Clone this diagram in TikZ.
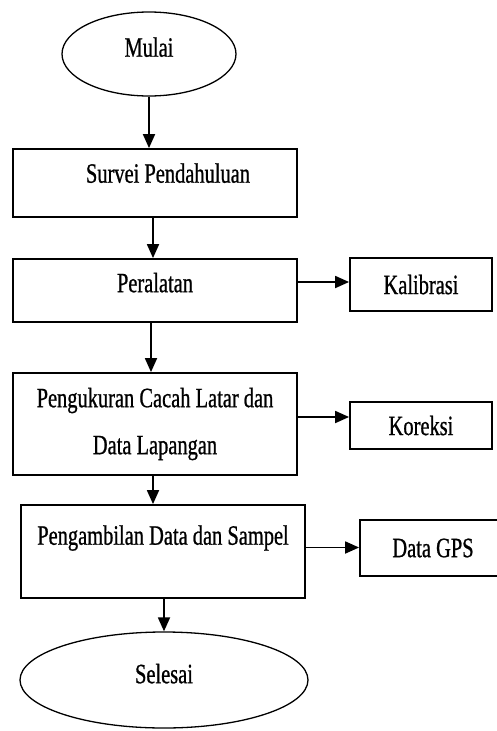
\documentclass[tikz,border=0pt]{standalone}
\usepackage{fontspec}
\setmainfont{Liberation Serif}[FakeStretch=0.73, FakeBold=0.8]
\usetikzlibrary{shapes.geometric, arrows.meta}

\begin{document}
\begin{tikzpicture}[x=1pt, y=-1pt,
    every node/.style={draw, line width=1.8pt, font=\fontsize{28}{34}\selectfont},
    box/.style={rectangle},
    oval/.style={ellipse, line width=1.3pt},
    flow/.style={line width=1.8pt, -{Triangle[length=14pt, width=12pt]}}]
    \clip (0, 0) rectangle (497, 731);

    \node[oval, minimum width=174pt, minimum height=84pt, text depth=14pt] (mulai) at (149, 54) {Mulai};
    \node[box, minimum width=284pt, minimum height=68pt, text depth=20pt] (survei) at (155, 183) {\hspace*{26pt}Survei Pendahuluan};
    \node[box, minimum width=284pt, minimum height=63pt, text depth=16pt] (alat) at (155, 290.5) {Peralatan};
    \node[box, minimum width=142pt, minimum height=53pt] (kalibrasi) at (421, 284.5) {Kalibrasi};
    \node[box, minimum width=284pt, minimum height=102pt, align=center,
        font=\fontsize{28}{47}\selectfont] (ukur) at (155, 424) {Pengukuran Cacah Latar dan\\Data Lapangan};
    \node[box, minimum width=142pt, minimum height=47pt] (koreksi) at (421, 425.5) {Koreksi};
    \node[box, minimum width=284pt, minimum height=93pt, text depth=33pt] (ambil) at (163, 551.5) {Pengambilan Data dan Sampel};
    \node[box, minimum width=146pt, minimum height=56pt] (gps) at (433, 548) {Data GPS};
    \node[oval, minimum width=288pt, minimum height=96pt, text depth=13pt] (selesai) at (164, 680) {Selesai};

    \draw[flow] (mulai) -- (mulai |- survei.north);
    \draw[flow] ([xshift=-2pt]survei.south) -- ([xshift=-2pt]alat.north);
    \draw[flow] ([xshift=-4pt]alat.south) -- ([xshift=-4pt]ukur.north);
    \draw[flow] ([xshift=-2pt]ukur.south) -- ([xshift=-2pt]ukur.south |- ambil.north);
    \draw[flow] (ambil.south -| selesai.north) -- (selesai.north);
    \draw[flow] ([yshift=2.5pt]alat.east |- kalibrasi.west) -- ([yshift=2.5pt]kalibrasi.west);
    \draw[flow] ([yshift=8.5pt]ukur.east |- koreksi.west) -- ([yshift=8.5pt]koreksi.west);
    \draw[flow] ([yshift=0.5pt]ambil.east |- gps.west) -- ([yshift=0.5pt]gps.west);
\end{tikzpicture}
\end{document}
